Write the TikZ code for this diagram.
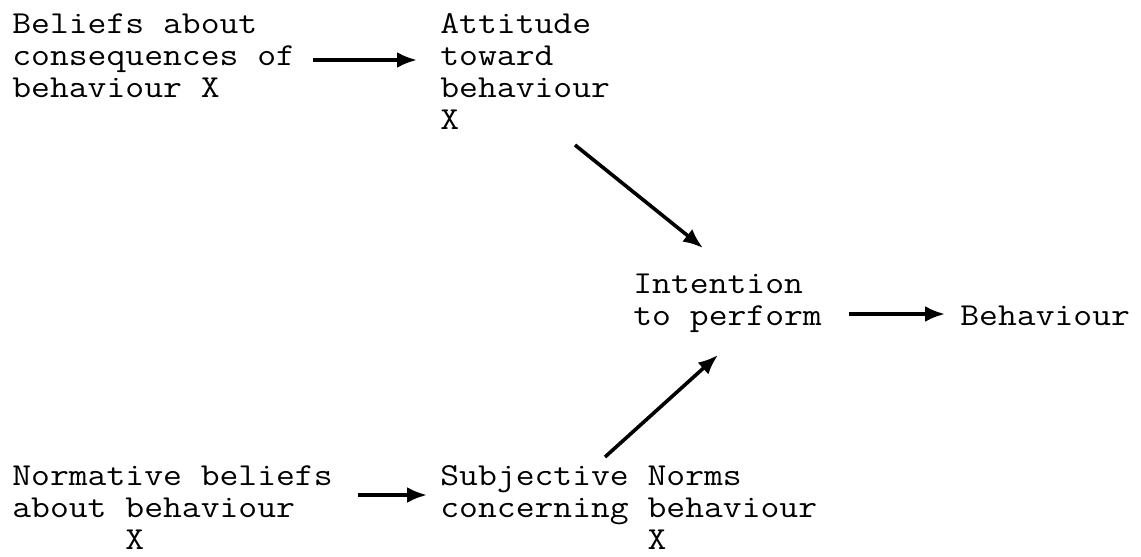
\documentclass[tikz,border=0pt]{standalone}
\usepackage{graphicx}
\usetikzlibrary{arrows.meta,calc}
\newcommand\hsc[1]{\scalebox{1.143}[1]{#1}}
\begin{document}
\begin{tikzpicture}[x=0.5pt,y=-0.5pt,
  lbl/.style={anchor=base west,inner sep=0pt,align=left,font=\fontsize{16}{16}\selectfont\ttfamily},
  arr/.style={line width=1.8pt,-{Latex[length=10pt,width=8pt]}}]
\useasboundingbox (0,0) rectangle (1141,557);
\fill[white] (0,0) rectangle (1141,557);
\node[lbl] (beliefs) at (12,97) {\hsc{Beliefs about}\\\hsc{consequences of}\\\hsc{behaviour X}};
\node[lbl] (att) at (440,129) {\hsc{Attitude}\\\hsc{toward}\\\hsc{behaviour}\\\hsc{X}};
\node[lbl] (intent) at (633,325) {\hsc{Intention}\\\hsc{to perform}};
\node[lbl] (behav) at (960,325) {\hsc{Behaviour}};
\node[lbl] (norm) at (12,549) {\hsc{Normative beliefs}\\\hsc{about behaviour}\\\hsc{\hphantom{xxxxxx}X}};
\node[lbl] (subj) at (440,549) {\hsc{Subjective Norms}\\\hsc{concerning behaviour}\\\hsc{\hphantom{xxxxxxxxxxx}X}};
\draw[arr] ($(beliefs.base west)+(301,-37)$) -- ($(att.base west)+(-23,-69)$);
\draw[arr] ($(att.base west)+(135,16)$) -- ($(intent.base west)+(70,-77)$);
\draw[arr] ($(intent.base west)+(216,-11)$) -- ($(behav.base west)+(-15,-11)$);
\draw[arr] ($(subj.base west)+(165,-92)$) -- ($(intent.base west)+(85,30)$);
\draw[arr] ($(norm.base west)+(346,-54)$) -- ($(subj.base west)+(-13,-54)$);
\end{tikzpicture}
\end{document}
